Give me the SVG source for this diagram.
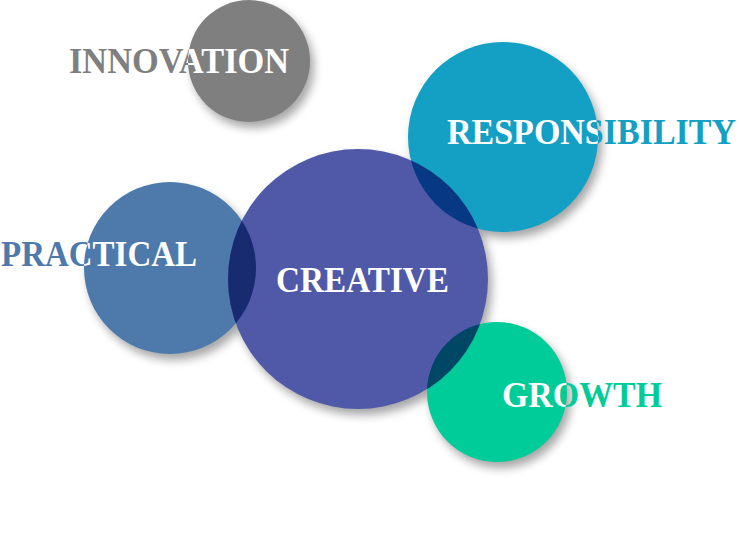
<svg xmlns="http://www.w3.org/2000/svg" width="739" height="546" viewBox="0 0 739 546">
  <style>
    .lbl { font-family: "Liberation Serif", "Times New Roman", serif; font-weight: bold; font-size: 36px; }
    .w { fill: #ffffff; }
  </style>
  <defs>
    <filter id="blur" x="-20%" y="-20%" width="140%" height="140%">
      <feGaussianBlur stdDeviation="5"/>
    </filter>
    <clipPath id="cInno"><circle cx="249" cy="61" r="61"/></clipPath>
    <clipPath id="cResp"><circle cx="503" cy="137" r="95"/></clipPath>
    <clipPath id="cPrac"><circle cx="170" cy="268" r="86"/></clipPath>
    <clipPath id="cCrea"><circle cx="358" cy="279" r="130"/></clipPath>
    <clipPath id="cGrow"><circle cx="497" cy="392" r="70"/></clipPath>
  </defs>
  <rect width="739" height="546" fill="#ffffff"/>

  <g id="shadows" opacity="0.35" filter="url(#blur)" transform="translate(4,6)">
    <circle cx="249" cy="61" r="61"/>
    <circle cx="503" cy="137" r="95"/>
    <circle cx="170" cy="268" r="86"/>
    <circle cx="358" cy="279" r="130"/>
    <circle cx="497" cy="392" r="70"/>
  </g>

  <g id="innovation">
    <circle cx="249" cy="61" r="61" fill="#7f7f7f"/>
    <text class="lbl" x="69" y="73" textLength="220" lengthAdjust="spacingAndGlyphs" fill="#7f7f7f">INNOVATION</text>
    <text class="lbl w" x="69" y="73" textLength="220" lengthAdjust="spacingAndGlyphs" clip-path="url(#cInno)">INNOVATION</text>
  </g>

  <g id="practical">
    <circle cx="170" cy="268" r="86" fill="#4d7aab"/>
    <text class="lbl" x="1" y="266" textLength="196" lengthAdjust="spacingAndGlyphs" fill="#4d7aab">PRACTICAL</text>
    <text class="lbl w" x="1" y="266" textLength="196" lengthAdjust="spacingAndGlyphs" clip-path="url(#cPrac)">PRACTICAL</text>
  </g>

  <g id="responsibility">
    <circle cx="503" cy="137" r="95" fill="#14a0c4"/>
  </g>

  <g id="growth">
    <circle cx="497" cy="392" r="70" fill="#00cc99"/>
  </g>

  <g id="creative">
    <circle cx="358" cy="279" r="130" fill="#5059a8"/>
  </g>

  <g id="connectors">
    <circle cx="170" cy="268" r="86" fill="#182a70" clip-path="url(#cCrea)"/>
    <circle cx="503" cy="137" r="95" fill="#063883" clip-path="url(#cCrea)"/>
    <circle cx="497" cy="392" r="70" fill="#004766" clip-path="url(#cCrea)"/>
  </g>

  <g id="labels">
    <text class="lbl" x="447" y="144" textLength="289" lengthAdjust="spacingAndGlyphs" fill="#14a0c4">RESPONSIBILITY</text>
    <text class="lbl w" x="447" y="144" textLength="289" lengthAdjust="spacingAndGlyphs" clip-path="url(#cResp)">RESPONSIBILITY</text>
    <text class="lbl w" x="276" y="292" textLength="173" lengthAdjust="spacingAndGlyphs">CREATIVE</text>
    <text class="lbl" x="502" y="407" textLength="160" lengthAdjust="spacingAndGlyphs" fill="#00cc99">GROWTH</text>
    <text class="lbl w" x="502" y="407" textLength="160" lengthAdjust="spacingAndGlyphs" clip-path="url(#cGrow)">GROWTH</text>
  </g>
</svg>
